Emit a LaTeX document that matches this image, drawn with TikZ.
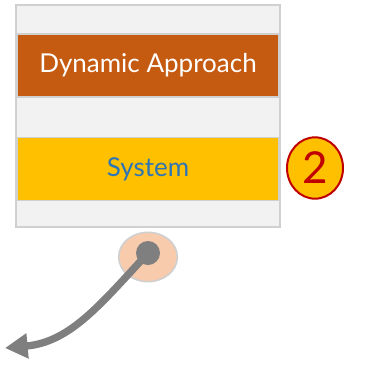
\documentclass[tikz,border=0pt]{standalone}
\usepackage{fontspec}
\setmainfont{Lato}
\usetikzlibrary{arrows.meta, shapes.geometric}
\definecolor{panelgray}{HTML}{F2F2F2}
\definecolor{edgegray}{HTML}{D0D0D0}
\definecolor{approach}{HTML}{C55A11}
\definecolor{systemgold}{HTML}{FFC000}
\definecolor{systemblue}{HTML}{2E75B6}
\definecolor{markred}{HTML}{C00000}
\definecolor{handlepeach}{HTML}{F8CBAD}
\definecolor{handlegray}{HTML}{7F7F7F}

\begin{document}
\begin{tikzpicture}[x=0.75pt,y=-0.75pt,
    band/.style={draw=edgegray, line width=1.2pt, minimum width=196.5pt, minimum height=47.5pt, inner sep=0pt}]
        \useasboundingbox (0,0) rectangle (373,368);

        % Draw the panel
        \node[draw=edgegray, line width=1.5pt, fill=panelgray, minimum width=198pt, minimum height=166.5pt] (panel) at (148,116) {};

        % Draw the bands
        \node[band, fill=approach, text=white, font=\fontsize{19.5}{22}\selectfont] (approach) at (148,65.5) {Dynamic Approach};
        \node[band, fill=systemgold, text=systemblue, font=\fontsize{19.5}{22}\selectfont] (system) at (148,169) {System};

        % Step marker
        \node[ellipse, draw=markred, line width=1.5pt, fill=systemgold, minimum width=42pt, minimum height=46pt, inner sep=0pt, text=markred, font=\fontsize{33}{36}\selectfont] (mark) at (315,168) {2};

        % Draw the handle
        \node[ellipse, draw=edgegray, line width=1.2pt, fill=handlepeach, minimum width=44pt, minimum height=37pt] (handle) at (148,257) {};
        \node[circle, fill=handlegray, minimum size=18pt, inner sep=0pt] (dot) at (148,253) {};
        \coordinate (tip) at (5,348);

        % Arrow leaving the handle
        \draw[handlegray, line width=5.5pt, -{Triangle[length=17pt, width=18pt]}] (dot.center) .. controls (100,305) and (70,342) .. (tip);
    \end{tikzpicture}
\end{document}
